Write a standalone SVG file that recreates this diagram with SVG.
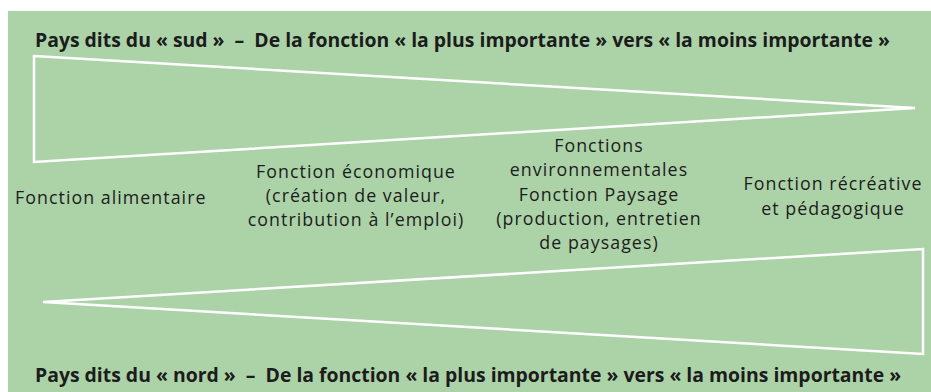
<svg xmlns="http://www.w3.org/2000/svg" width="931" height="392" viewBox="0 0 931 392">
<style>
.t{font-family:"Open Sans","Noto Sans","Liberation Sans",sans-serif;fill:#1c1c1c}
.h{font-size:19.4px;font-weight:bold;white-space:pre}
.b{font-size:17.8px;letter-spacing:1.05px}
.c{text-anchor:middle}
.s{fill:none;stroke:#ffffff;stroke-width:2.5;stroke-linejoin:miter}
</style>
<rect x="8" y="11" width="923" height="381" fill="#acd3a8"/>
<g id="titre-sud"><text class="t h" x="35" y="47" xml:space="preserve">Pays dits du « sud »  –  De la fonction « la plus importante » vers « la moins importante »</text></g>
<g id="titre-nord"><text class="t h" x="35" y="382" xml:space="preserve">Pays dits du « nord »  –  De la fonction « la plus importante » vers « la moins importante »</text></g>
<g id="connecteurs">
<polygon id="coin-sud" class="s" points="34,56 915,108 34,162"/>
<polygon id="coin-nord" class="s" points="43,302 923,249 923,354"/>
</g>
<g id="alimentaire"><text class="t b" x="15" y="204">Fonction alimentaire</text></g>
<g id="economique" class="t b c">
<text x="356" y="178">Fonction économique</text>
<text x="356" y="202">(création de valeur,</text>
<text x="356" y="226">contribution à l’emploi)</text>
</g>
<g id="environnement" class="t b c">
<text x="599" y="152">Fonctions</text>
<text x="599" y="176.3">environnementales</text>
<text x="599" y="200.6">Fonction Paysage</text>
<text x="599" y="224.9">(production, entretien</text>
<text x="599" y="249.2">de paysages)</text>
</g>
<g id="recreative" class="t b c">
<text x="833" y="190">Fonction récréative</text>
<text x="833" y="215">et pédagogique</text>
</g>
</svg>
